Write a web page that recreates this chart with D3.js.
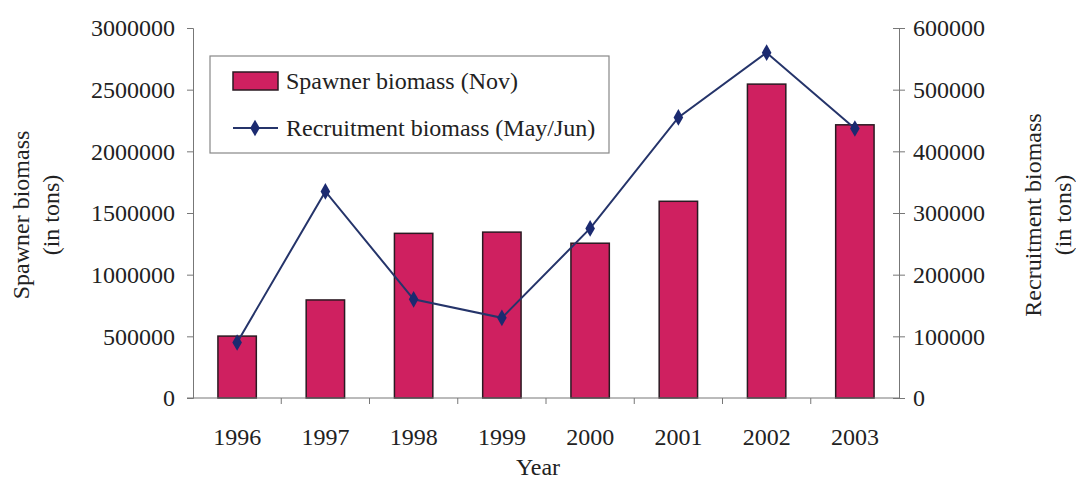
<!DOCTYPE html>
<html>
<head>
<meta charset="utf-8">
<script src="https://cdn.jsdelivr.net/npm/d3@7"></script>
<style>
  html, body { margin: 0; padding: 0; background: #fff; }
  svg { display: block; }
  text { font-family: "Liberation Serif", "Times New Roman", serif; fill: #222; }
</style>
</head>
<body>
<svg id="chart" width="1076" height="479"></svg>
<script>
// Herring biomass by survey year
const years = ["1996", "1997", "1998", "1999", "2000", "2001", "2002", "2003"];
const spawnerBiomass = [502000, 795000, 1335000, 1345000, 1255000, 1595000, 2545000, 2215000];
const recruitmentBiomass = [90000, 335000, 160000, 130000, 275000, 455000, 560000, 437000];
const leftTicks = [0, 500000, 1000000, 1500000, 2000000, 2500000, 3000000];
const rightTicks = [0, 100000, 200000, 300000, 400000, 500000, 600000];

const svg = d3.select("#chart");
const plot = { left: 193, right: 899, top: 28, bottom: 398 };

const x = d3.scaleBand().domain(years).range([plot.left, plot.right]).paddingInner(0.565).paddingOuter(0.2825);
const xCat = d3.scaleBand().domain(years).range([plot.left, plot.right]);
const yLeft = d3.scaleLinear().domain([0, 3000000]).range([plot.bottom, plot.top]);
const yRight = d3.scaleLinear().domain([0, 600000]).range([plot.bottom, plot.top]);

const axisColor = "#777";
const barFill = "#cf2060";
const lineColor = "#25346a";

// bars
svg.append("g").selectAll("rect").data(years).join("rect")
  .attr("x", d => x(d))
  .attr("width", x.bandwidth())
  .attr("y", (d, i) => yLeft(spawnerBiomass[i]))
  .attr("height", (d, i) => plot.bottom - yLeft(spawnerBiomass[i]))
  .attr("fill", barFill)
  .attr("stroke", "#2a1a22")
  .attr("stroke-width", 1.5);

// left axis
const gl = svg.append("g").attr("transform", `translate(${plot.left},0)`)
  .call(d3.axisLeft(yLeft).tickValues(leftTicks).tickSize(6).tickPadding(12).tickFormat(d3.format("d")));
gl.select(".domain").attr("stroke", axisColor);
gl.selectAll(".tick line").attr("stroke", axisColor);
gl.selectAll(".tick text").style("font-size", "24px").attr("fill", "#222").attr("dy", "0.33em");

// right axis with ticks crossing the line
const gr = svg.append("g").attr("transform", `translate(${plot.right},0)`)
  .call(d3.axisRight(yRight).tickValues(rightTicks).tickSize(6).tickPadding(8).tickFormat(d3.format("d")));
gr.select(".domain").attr("stroke", axisColor);
gr.selectAll(".tick line").attr("stroke", axisColor).attr("x1", -6);
gr.selectAll(".tick text").style("font-size", "24px").attr("fill", "#222").attr("dy", "0.33em");

// category axis: ticks sit on the boundaries between years
const gx = svg.append("g").attr("transform", `translate(0,${plot.bottom})`);
gx.append("line").attr("x1", plot.left - 6).attr("x2", plot.right).attr("stroke", axisColor);
gx.selectAll("line.tk").data(years.slice(1)).join("line").attr("class", "tk")
  .attr("x1", d => xCat(d)).attr("x2", d => xCat(d)).attr("y1", 0).attr("y2", 6).attr("stroke", axisColor);
gx.selectAll("text").data(years).join("text")
  .attr("x", d => xCat(d) + xCat.bandwidth() / 2)
  .attr("y", 47)
  .attr("text-anchor", "middle")
  .style("font-size", "24px")
  .text(d => d);

// recruitment line
const line = d3.line()
  .x((d, i) => xCat(years[i]) + xCat.bandwidth() / 2)
  .y(d => yRight(d));
svg.append("path").datum(recruitmentBiomass)
  .attr("d", line).attr("fill", "none").attr("stroke", lineColor).attr("stroke-width", 2);
svg.append("g").selectAll("path").data(recruitmentBiomass).join("path")
  .attr("transform", (d, i) => `translate(${xCat(years[i]) + xCat.bandwidth() / 2},${yRight(d)})`)
  .attr("d", d3.symbol(d3.symbolDiamond, 80))
  .attr("fill", "#1b2a70");

// axis titles
svg.append("text").attr("x", 538).attr("y", 475).attr("text-anchor", "middle")
  .style("font-size", "24px").text("Year");
const lt = svg.append("text").attr("transform", "translate(36,215) rotate(-90)")
  .attr("text-anchor", "middle").style("font-size", "24px");
lt.append("tspan").attr("x", 0).attr("dy", "-0.3em").text("Spawner biomass");
lt.append("tspan").attr("x", 0).attr("dy", "1.25em").text("(in tons)");
const rt = svg.append("text").attr("transform", "translate(1048,215) rotate(-90)")
  .attr("text-anchor", "middle").style("font-size", "24px");
rt.append("tspan").attr("x", 0).attr("dy", "-0.3em").text("Recruitment biomass");
rt.append("tspan").attr("x", 0).attr("dy", "1.25em").text("(in tons)");

// legend
const lg = svg.append("g");
lg.append("rect").attr("x", 210).attr("y", 56).attr("width", 399).attr("height", 97)
  .attr("fill", "#fff").attr("stroke", "#888").attr("stroke-width", 1.2);
lg.append("rect").attr("x", 233).attr("y", 72).attr("width", 45).attr("height", 18)
  .attr("fill", barFill).attr("stroke", "#2a1a22").attr("stroke-width", 1.5);
lg.append("text").attr("x", 286).attr("y", 89).style("font-size", "24px").text("Spawner biomass (Nov)");
lg.append("line").attr("x1", 233).attr("x2", 278).attr("y1", 128).attr("y2", 128)
  .attr("stroke", lineColor).attr("stroke-width", 2);
lg.append("path").attr("transform", "translate(255,128)")
  .attr("d", d3.symbol(d3.symbolDiamond, 80)).attr("fill", "#1b2a70");
lg.append("text").attr("x", 286).attr("y", 136).style("font-size", "24px").text("Recruitment biomass (May/Jun)");
</script>
</body>
</html>
